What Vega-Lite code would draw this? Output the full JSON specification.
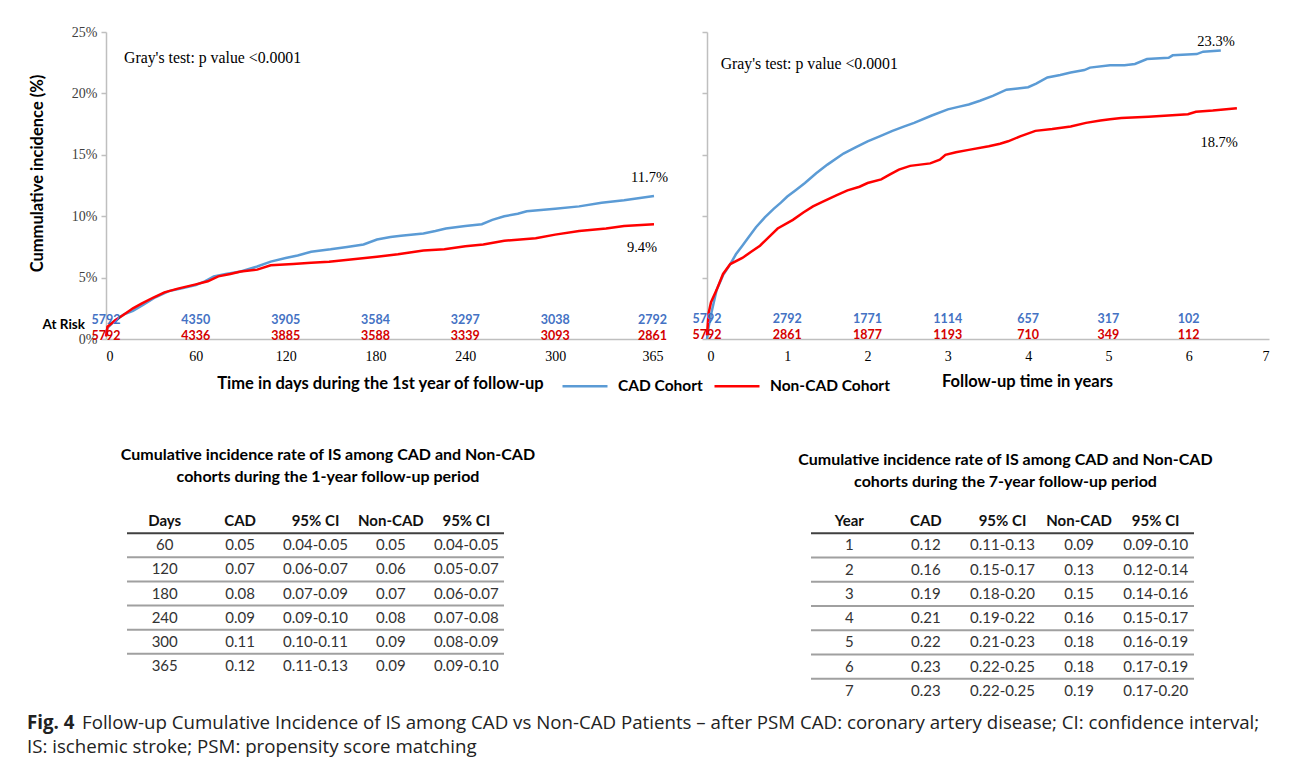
{
  "$schema": "https://vega.github.io/schema/vega-lite/v6.json",
  "background": "white",
  "padding": {"left": 27, "top": 25, "right": 5, "bottom": 5},
  "config": {"view": {"stroke": null}, "font": "Lato"},
  "datasets": {
    "curvesL": [
      {"cohort":"CAD Cohort","t":0,"ci":0.005},{"cohort":"CAD Cohort","t":1,"ci":0.009},{"cohort":"CAD Cohort","t":6,"ci":0.015},{"cohort":"CAD Cohort","t":12,"ci":0.02},{"cohort":"CAD Cohort","t":18,"ci":0.023},{"cohort":"CAD Cohort","t":25,"ci":0.028},{"cohort":"CAD Cohort","t":33,"ci":0.034},{"cohort":"CAD Cohort","t":42,"ci":0.039},{"cohort":"CAD Cohort","t":50,"ci":0.041},{"cohort":"CAD Cohort","t":60,"ci":0.044},{"cohort":"CAD Cohort","t":66,"ci":0.047},{"cohort":"CAD Cohort","t":72,"ci":0.051},{"cohort":"CAD Cohort","t":80,"ci":0.053},{"cohort":"CAD Cohort","t":90,"ci":0.055},{"cohort":"CAD Cohort","t":101,"ci":0.059},{"cohort":"CAD Cohort","t":110,"ci":0.063},{"cohort":"CAD Cohort","t":120,"ci":0.066},{"cohort":"CAD Cohort","t":128,"ci":0.068},{"cohort":"CAD Cohort","t":137,"ci":0.071},{"cohort":"CAD Cohort","t":150,"ci":0.073},{"cohort":"CAD Cohort","t":161,"ci":0.075},{"cohort":"CAD Cohort","t":172,"ci":0.077},{"cohort":"CAD Cohort","t":181,"ci":0.081},{"cohort":"CAD Cohort","t":190,"ci":0.083},{"cohort":"CAD Cohort","t":197,"ci":0.084},{"cohort":"CAD Cohort","t":212,"ci":0.086},{"cohort":"CAD Cohort","t":220,"ci":0.088},{"cohort":"CAD Cohort","t":227,"ci":0.09},{"cohort":"CAD Cohort","t":240,"ci":0.092},{"cohort":"CAD Cohort","t":251,"ci":0.0935},{"cohort":"CAD Cohort","t":258,"ci":0.097},{"cohort":"CAD Cohort","t":266,"ci":0.1},{"cohort":"CAD Cohort","t":275,"ci":0.102},{"cohort":"CAD Cohort","t":281,"ci":0.104},{"cohort":"CAD Cohort","t":300,"ci":0.106},{"cohort":"CAD Cohort","t":316,"ci":0.108},{"cohort":"CAD Cohort","t":331,"ci":0.111},{"cohort":"CAD Cohort","t":346,"ci":0.113},{"cohort":"CAD Cohort","t":366,"ci":0.1165},
      {"cohort":"Non-CAD Cohort","t":0,"ci":0.002},{"cohort":"Non-CAD Cohort","t":1,"ci":0.01},{"cohort":"Non-CAD Cohort","t":6,"ci":0.015},{"cohort":"Non-CAD Cohort","t":12,"ci":0.02},{"cohort":"Non-CAD Cohort","t":18,"ci":0.025},{"cohort":"Non-CAD Cohort","t":24,"ci":0.029},{"cohort":"Non-CAD Cohort","t":32,"ci":0.034},{"cohort":"Non-CAD Cohort","t":39,"ci":0.038},{"cohort":"Non-CAD Cohort","t":48,"ci":0.041},{"cohort":"Non-CAD Cohort","t":60,"ci":0.0445},{"cohort":"Non-CAD Cohort","t":68,"ci":0.047},{"cohort":"Non-CAD Cohort","t":75,"ci":0.051},{"cohort":"Non-CAD Cohort","t":83,"ci":0.053},{"cohort":"Non-CAD Cohort","t":90,"ci":0.055},{"cohort":"Non-CAD Cohort","t":101,"ci":0.0565},{"cohort":"Non-CAD Cohort","t":110,"ci":0.06},{"cohort":"Non-CAD Cohort","t":125,"ci":0.061},{"cohort":"Non-CAD Cohort","t":137,"ci":0.062},{"cohort":"Non-CAD Cohort","t":149,"ci":0.063},{"cohort":"Non-CAD Cohort","t":165,"ci":0.065},{"cohort":"Non-CAD Cohort","t":181,"ci":0.067},{"cohort":"Non-CAD Cohort","t":195,"ci":0.069},{"cohort":"Non-CAD Cohort","t":212,"ci":0.072},{"cohort":"Non-CAD Cohort","t":226,"ci":0.073},{"cohort":"Non-CAD Cohort","t":240,"ci":0.0755},{"cohort":"Non-CAD Cohort","t":252,"ci":0.077},{"cohort":"Non-CAD Cohort","t":266,"ci":0.08},{"cohort":"Non-CAD Cohort","t":287,"ci":0.082},{"cohort":"Non-CAD Cohort","t":300,"ci":0.085},{"cohort":"Non-CAD Cohort","t":316,"ci":0.088},{"cohort":"Non-CAD Cohort","t":334,"ci":0.09},{"cohort":"Non-CAD Cohort","t":346,"ci":0.092},{"cohort":"Non-CAD Cohort","t":366,"ci":0.0935}
    ],
    "curvesR": [
      {"cohort":"CAD Cohort","t":0,"ci":0},{"cohort":"CAD Cohort","t":0.02,"ci":0.01},{"cohort":"CAD Cohort","t":0.05,"ci":0.02},{"cohort":"CAD Cohort","t":0.12,"ci":0.04},{"cohort":"CAD Cohort","t":0.2,"ci":0.052},{"cohort":"CAD Cohort","t":0.29,"ci":0.061},{"cohort":"CAD Cohort","t":0.36,"ci":0.069},{"cohort":"CAD Cohort","t":0.44,"ci":0.076},{"cohort":"CAD Cohort","t":0.52,"ci":0.083},{"cohort":"CAD Cohort","t":0.61,"ci":0.091},{"cohort":"CAD Cohort","t":0.72,"ci":0.099},{"cohort":"CAD Cohort","t":0.83,"ci":0.106},{"cohort":"CAD Cohort","t":0.92,"ci":0.111},{"cohort":"CAD Cohort","t":1.0,"ci":0.116},{"cohort":"CAD Cohort","t":1.1,"ci":0.121},{"cohort":"CAD Cohort","t":1.22,"ci":0.127},{"cohort":"CAD Cohort","t":1.36,"ci":0.135},{"cohort":"CAD Cohort","t":1.5,"ci":0.142},{"cohort":"CAD Cohort","t":1.7,"ci":0.151},{"cohort":"CAD Cohort","t":1.85,"ci":0.156},{"cohort":"CAD Cohort","t":2.0,"ci":0.161},{"cohort":"CAD Cohort","t":2.15,"ci":0.165},{"cohort":"CAD Cohort","t":2.31,"ci":0.1695},{"cohort":"CAD Cohort","t":2.45,"ci":0.173},{"cohort":"CAD Cohort","t":2.58,"ci":0.176},{"cohort":"CAD Cohort","t":2.8,"ci":0.182},{"cohort":"CAD Cohort","t":3.0,"ci":0.187},{"cohort":"CAD Cohort","t":3.13,"ci":0.189},{"cohort":"CAD Cohort","t":3.26,"ci":0.191},{"cohort":"CAD Cohort","t":3.4,"ci":0.194},{"cohort":"CAD Cohort","t":3.56,"ci":0.198},{"cohort":"CAD Cohort","t":3.73,"ci":0.203},{"cohort":"CAD Cohort","t":3.87,"ci":0.204},{"cohort":"CAD Cohort","t":4.0,"ci":0.205},{"cohort":"CAD Cohort","t":4.1,"ci":0.208},{"cohort":"CAD Cohort","t":4.24,"ci":0.213},{"cohort":"CAD Cohort","t":4.4,"ci":0.215},{"cohort":"CAD Cohort","t":4.53,"ci":0.217},{"cohort":"CAD Cohort","t":4.7,"ci":0.219},{"cohort":"CAD Cohort","t":4.77,"ci":0.221},{"cohort":"CAD Cohort","t":5.02,"ci":0.223},{"cohort":"CAD Cohort","t":5.2,"ci":0.223},{"cohort":"CAD Cohort","t":5.33,"ci":0.224},{"cohort":"CAD Cohort","t":5.48,"ci":0.228},{"cohort":"CAD Cohort","t":5.75,"ci":0.229},{"cohort":"CAD Cohort","t":5.8,"ci":0.231},{"cohort":"CAD Cohort","t":6.1,"ci":0.232},{"cohort":"CAD Cohort","t":6.18,"ci":0.234},{"cohort":"CAD Cohort","t":6.4,"ci":0.235},
      {"cohort":"Non-CAD Cohort","t":0,"ci":0.003},{"cohort":"Non-CAD Cohort","t":0.02,"ci":0.021},{"cohort":"Non-CAD Cohort","t":0.05,"ci":0.03},{"cohort":"Non-CAD Cohort","t":0.12,"ci":0.04},{"cohort":"Non-CAD Cohort","t":0.2,"ci":0.053},{"cohort":"Non-CAD Cohort","t":0.29,"ci":0.061},{"cohort":"Non-CAD Cohort","t":0.44,"ci":0.066},{"cohort":"Non-CAD Cohort","t":0.55,"ci":0.071},{"cohort":"Non-CAD Cohort","t":0.66,"ci":0.076},{"cohort":"Non-CAD Cohort","t":0.77,"ci":0.083},{"cohort":"Non-CAD Cohort","t":0.88,"ci":0.09},{"cohort":"Non-CAD Cohort","t":1.07,"ci":0.097},{"cohort":"Non-CAD Cohort","t":1.2,"ci":0.103},{"cohort":"Non-CAD Cohort","t":1.32,"ci":0.108},{"cohort":"Non-CAD Cohort","t":1.45,"ci":0.112},{"cohort":"Non-CAD Cohort","t":1.61,"ci":0.117},{"cohort":"Non-CAD Cohort","t":1.75,"ci":0.121},{"cohort":"Non-CAD Cohort","t":1.9,"ci":0.124},{"cohort":"Non-CAD Cohort","t":2.0,"ci":0.127},{"cohort":"Non-CAD Cohort","t":2.17,"ci":0.13},{"cohort":"Non-CAD Cohort","t":2.28,"ci":0.134},{"cohort":"Non-CAD Cohort","t":2.39,"ci":0.138},{"cohort":"Non-CAD Cohort","t":2.53,"ci":0.141},{"cohort":"Non-CAD Cohort","t":2.78,"ci":0.143},{"cohort":"Non-CAD Cohort","t":2.9,"ci":0.146},{"cohort":"Non-CAD Cohort","t":2.97,"ci":0.15},{"cohort":"Non-CAD Cohort","t":3.1,"ci":0.152},{"cohort":"Non-CAD Cohort","t":3.26,"ci":0.154},{"cohort":"Non-CAD Cohort","t":3.51,"ci":0.157},{"cohort":"Non-CAD Cohort","t":3.65,"ci":0.159},{"cohort":"Non-CAD Cohort","t":3.75,"ci":0.161},{"cohort":"Non-CAD Cohort","t":3.9,"ci":0.165},{"cohort":"Non-CAD Cohort","t":4.09,"ci":0.1695},{"cohort":"Non-CAD Cohort","t":4.3,"ci":0.171},{"cohort":"Non-CAD Cohort","t":4.53,"ci":0.173},{"cohort":"Non-CAD Cohort","t":4.72,"ci":0.176},{"cohort":"Non-CAD Cohort","t":4.9,"ci":0.178},{"cohort":"Non-CAD Cohort","t":5.02,"ci":0.179},{"cohort":"Non-CAD Cohort","t":5.16,"ci":0.18},{"cohort":"Non-CAD Cohort","t":5.5,"ci":0.181},{"cohort":"Non-CAD Cohort","t":5.99,"ci":0.183},{"cohort":"Non-CAD Cohort","t":6.09,"ci":0.185},{"cohort":"Non-CAD Cohort","t":6.3,"ci":0.186},{"cohort":"Non-CAD Cohort","t":6.6,"ci":0.188}
    ],
    "riskL": [
      {"cohort":"CAD Cohort","t":0,"n":5792},{"cohort":"CAD Cohort","t":60,"n":4350},{"cohort":"CAD Cohort","t":120,"n":3905},{"cohort":"CAD Cohort","t":180,"n":3584},{"cohort":"CAD Cohort","t":240,"n":3297},{"cohort":"CAD Cohort","t":300,"n":3038},{"cohort":"CAD Cohort","t":365,"n":2792},
      {"cohort":"Non-CAD Cohort","t":0,"n":5792},{"cohort":"Non-CAD Cohort","t":60,"n":4336},{"cohort":"Non-CAD Cohort","t":120,"n":3885},{"cohort":"Non-CAD Cohort","t":180,"n":3588},{"cohort":"Non-CAD Cohort","t":240,"n":3339},{"cohort":"Non-CAD Cohort","t":300,"n":3093},{"cohort":"Non-CAD Cohort","t":365,"n":2861}
    ],
    "riskR": [
      {"cohort":"CAD Cohort","t":0,"n":5792},{"cohort":"CAD Cohort","t":1,"n":2792},{"cohort":"CAD Cohort","t":2,"n":1771},{"cohort":"CAD Cohort","t":3,"n":1114},{"cohort":"CAD Cohort","t":4,"n":657},{"cohort":"CAD Cohort","t":5,"n":317},{"cohort":"CAD Cohort","t":6,"n":102},
      {"cohort":"Non-CAD Cohort","t":0,"n":5792},{"cohort":"Non-CAD Cohort","t":1,"n":2861},{"cohort":"Non-CAD Cohort","t":2,"n":1877},{"cohort":"Non-CAD Cohort","t":3,"n":1193},{"cohort":"Non-CAD Cohort","t":4,"n":710},{"cohort":"Non-CAD Cohort","t":5,"n":349},{"cohort":"Non-CAD Cohort","t":6,"n":112}
    ],
    "tableL": [
      {"row":0,"c1":"Days","c2":"CAD","c3":"95% CI","c4":"Non-CAD","c5":"95% CI"},
      {"row":1,"c1":"60","c2":"0.05","c3":"0.04-0.05","c4":"0.05","c5":"0.04-0.05"},
      {"row":2,"c1":"120","c2":"0.07","c3":"0.06-0.07","c4":"0.06","c5":"0.05-0.07"},
      {"row":3,"c1":"180","c2":"0.08","c3":"0.07-0.09","c4":"0.07","c5":"0.06-0.07"},
      {"row":4,"c1":"240","c2":"0.09","c3":"0.09-0.10","c4":"0.08","c5":"0.07-0.08"},
      {"row":5,"c1":"300","c2":"0.11","c3":"0.10-0.11","c4":"0.09","c5":"0.08-0.09"},
      {"row":6,"c1":"365","c2":"0.12","c3":"0.11-0.13","c4":"0.09","c5":"0.09-0.10"}
    ],
    "tableR": [
      {"row":0,"c1":"Year","c2":"CAD","c3":"95% CI","c4":"Non-CAD","c5":"95% CI"},
      {"row":1,"c1":"1","c2":"0.12","c3":"0.11-0.13","c4":"0.09","c5":"0.09-0.10"},
      {"row":2,"c1":"2","c2":"0.16","c3":"0.15-0.17","c4":"0.13","c5":"0.12-0.14"},
      {"row":3,"c1":"3","c2":"0.19","c3":"0.18-0.20","c4":"0.15","c5":"0.14-0.16"},
      {"row":4,"c1":"4","c2":"0.21","c3":"0.19-0.22","c4":"0.16","c5":"0.15-0.17"},
      {"row":5,"c1":"5","c2":"0.22","c3":"0.21-0.23","c4":"0.18","c5":"0.16-0.19"},
      {"row":6,"c1":"6","c2":"0.23","c3":"0.22-0.25","c4":"0.18","c5":"0.17-0.19"},
      {"row":7,"c1":"7","c2":"0.23","c3":"0.22-0.25","c4":"0.19","c5":"0.17-0.20"}
    ]
  },
  "spacing": 6,
  "vconcat": [
    {
      "bounds": "flush",
      "align": "each",
      "columns": 2,
      "spacing": {"row": 170, "column": 53},
      "resolve": {"legend": {"color": "independent"}},
      "concat": [
        {
          "width": 548,
          "height": 307,
          "layer": [
            {
              "data": {"name": "curvesL"},
              "mark": {"type": "line", "strokeWidth": 2.5},
              "encoding": {
                "x": {"field": "t", "type": "quantitative", "scale": {"domain": [0, 366], "nice": false},
                  "axis": {"values": [0, 60, 120, 180, 240, 300, 365], "format": "d", "grid": false, "ticks": false, "domainColor": "#BFBFBF", "domainWidth": 1.5, "labelFont": "Liberation Serif", "labelFontSize": 14, "labelColor": "#000000", "labelPadding": 10, "title": "Time in days during the 1st year of follow-up", "titleFont": "Lato", "titleFontSize": 16.5, "titleFontWeight": "bold", "titleColor": "#000000", "titlePadding": 12}},
                "y": {"field": "ci", "type": "quantitative", "scale": {"domain": [0, 0.25], "nice": false},
                  "axis": {"values": [0, 0.05, 0.1, 0.15, 0.2, 0.25], "format": ".0%", "grid": false, "ticks": true, "tickSize": 5, "tickColor": "#BFBFBF", "tickWidth": 1.5, "domainColor": "#BFBFBF", "domainWidth": 1.5, "labelFont": "Liberation Serif", "labelFontSize": 14, "labelColor": "#404040", "labelPadding": 4, "title": "Cummulative incidence (%)", "titleY": 141, "titleFont": "Lato", "titleFontSize": 16.5, "titleFontWeight": "bold", "titleColor": "#000000", "titlePadding": 26}},
                "color": {"field": "cohort", "type": "nominal", "scale": {"domain": ["CAD Cohort", "Non-CAD Cohort"], "range": ["#5B9BD5", "#FF0000"]},
                  "legend": {"orient": "none", "legendX": 455, "legendY": 330, "direction": "horizontal", "title": null, "symbolType": "stroke", "symbolSize": 2025, "symbolStrokeWidth": 2.5, "labelFont": "Lato", "labelFontSize": 15.5, "labelFontWeight": "bold", "labelColor": "#000000", "labelOffset": 9, "columnPadding": 6}}
              }
            },
            {
              "data": {"values": [{}]},
              "mark": {"type": "text", "align": "left", "baseline": "middle", "font": "Liberation Serif", "fontSize": 15.8, "color": "#000000", "text": "Gray's test: p value <0.0001"},
              "encoding": {"x": {"datum": 12}, "y": {"datum": 0.229}}
            },
            {
              "data": {"values": [{}]},
              "mark": {"type": "text", "align": "center", "baseline": "middle", "font": "Liberation Serif", "fontSize": 14.5, "color": "#000000", "text": "11.7%"},
              "encoding": {"x": {"datum": 363}, "y": {"datum": 0.131}}
            },
            {
              "data": {"values": [{}]},
              "mark": {"type": "text", "align": "center", "baseline": "middle", "font": "Liberation Serif", "fontSize": 14.5, "color": "#000000", "text": "9.4%"},
              "encoding": {"x": {"datum": 358}, "y": {"datum": 0.074}}
            },
            {
              "data": {"values": [{}]},
              "mark": {"type": "text", "align": "right", "baseline": "middle", "font": "Lato", "fontSize": 13.5, "fontWeight": "bold", "color": "#000000", "text": "At Risk", "dx": -21},
              "encoding": {"x": {"datum": 0}, "y": {"datum": 0.0114}}
            },
            {
              "data": {"name": "riskL"},
              "transform": [{"filter": "datum.cohort === 'CAD Cohort'"}],
              "mark": {"type": "text", "align": "center", "baseline": "middle", "font": "Lato", "fontSize": 12.5, "fontWeight": "bold", "color": "#4472C4"},
              "encoding": {"x": {"field": "t", "type": "quantitative"}, "y": {"datum": 0.0155}, "text": {"field": "n", "type": "quantitative"}}
            },
            {
              "data": {"name": "riskL"},
              "transform": [{"filter": "datum.cohort === 'Non-CAD Cohort'"}],
              "mark": {"type": "text", "align": "center", "baseline": "middle", "font": "Lato", "fontSize": 12.5, "fontWeight": "bold", "color": "#D40000"},
              "encoding": {"x": {"field": "t", "type": "quantitative"}, "y": {"datum": 0.0025}, "text": {"field": "n", "type": "quantitative"}}
            }
          ]
        },
        {
          "width": 562,
          "height": 307,
          "layer": [
            {
              "data": {"name": "curvesR"},
              "mark": {"type": "line", "strokeWidth": 2.5},
              "encoding": {
                "x": {"field": "t", "type": "quantitative", "scale": {"domain": [0, 7], "nice": false},
                  "axis": {"values": [0, 1, 2, 3, 4, 5, 6, 7], "format": "d", "grid": false, "ticks": false, "domainColor": "#BFBFBF", "domainWidth": 1.5, "labelFont": "Liberation Serif", "labelFontSize": 14, "labelColor": "#000000", "labelPadding": 10, "title": "Follow-up time in years", "titleX": 320, "titleFont": "Lato", "titleFontSize": 16.5, "titleFontWeight": "bold", "titleColor": "#000000", "titlePadding": 10}},
                "y": {"field": "ci", "type": "quantitative", "scale": {"domain": [0, 0.25], "nice": false},
                  "axis": {"values": [0, 0.05, 0.1, 0.15, 0.2, 0.25], "labels": false, "grid": false, "ticks": true, "tickSize": 5, "tickColor": "#BFBFBF", "tickWidth": 1.5, "domainColor": "#BFBFBF", "domainWidth": 1.5, "title": null}},
                "color": {"field": "cohort", "type": "nominal", "scale": {"domain": ["CAD Cohort", "Non-CAD Cohort"], "range": ["#5B9BD5", "#FF0000"]}, "legend": null}
              }
            },
            {
              "data": {"values": [{}]},
              "mark": {"type": "text", "align": "left", "baseline": "middle", "font": "Liberation Serif", "fontSize": 15.8, "color": "#000000", "text": "Gray's test: p value <0.0001"},
              "encoding": {"x": {"datum": 0.17}, "y": {"datum": 0.224}}
            },
            {
              "data": {"values": [{}]},
              "mark": {"type": "text", "align": "center", "baseline": "middle", "font": "Liberation Serif", "fontSize": 14.5, "color": "#000000", "text": "23.3%"},
              "encoding": {"x": {"datum": 6.34}, "y": {"datum": 0.242}}
            },
            {
              "data": {"values": [{}]},
              "mark": {"type": "text", "align": "center", "baseline": "middle", "font": "Liberation Serif", "fontSize": 14.5, "color": "#000000", "text": "18.7%"},
              "encoding": {"x": {"datum": 6.38}, "y": {"datum": 0.16}}
            },
            {
              "data": {"name": "riskR"},
              "transform": [{"filter": "datum.cohort === 'CAD Cohort'"}],
              "mark": {"type": "text", "align": "center", "baseline": "middle", "font": "Lato", "fontSize": 12.5, "fontWeight": "bold", "color": "#4472C4"},
              "encoding": {"x": {"field": "t", "type": "quantitative"}, "y": {"datum": 0.0165}, "text": {"field": "n", "type": "quantitative"}}
            },
            {
              "data": {"name": "riskR"},
              "transform": [{"filter": "datum.cohort === 'Non-CAD Cohort'"}],
              "mark": {"type": "text", "align": "center", "baseline": "middle", "font": "Lato", "fontSize": 12.5, "fontWeight": "bold", "color": "#D40000"},
              "encoding": {"x": {"field": "t", "type": "quantitative"}, "y": {"datum": 0.0035}, "text": {"field": "n", "type": "quantitative"}}
            }
          ]
        },
        {
          "width": 398,
          "height": 169,
          "data": {"name": "tableL"},
          "title": {"text": ["Cumulative incidence rate of IS  among CAD and Non-CAD", "cohorts during the 1-year follow-up period"], "font": "Lato", "fontSize": 16, "fontWeight": "bold", "color": "#000000", "anchor": "middle", "dx": 23, "offset": 24, "lineHeight": 22},
          "layer": [
            {
              "transform": [{"filter": "datum.row > 0"}, {"fold": ["c1", "c2", "c3", "c4", "c5"], "as": ["col", "text"]}],
              "mark": {"type": "text", "font": "Lato", "fontSize": 15, "color": "#333333", "baseline": "middle"},
              "encoding": {
                "x": {"field": "col", "type": "nominal", "scale": {"type": "band", "domain": ["c1", "c2", "c3", "c4", "c5"], "paddingInner": 0, "paddingOuter": 0.1393, "align": 1}, "axis": null},
                "y": {"field": "row", "type": "ordinal", "scale": {"type": "band", "domain": [0, 1, 2, 3, 4, 5, 6], "paddingInner": 0, "paddingOuter": 0}, "axis": null},
                "text": {"field": "text", "type": "nominal"}
              }
            },
            {
              "transform": [{"filter": "datum.row === 0"}, {"fold": ["c1", "c2", "c3", "c4", "c5"], "as": ["col", "text"]}],
              "mark": {"type": "text", "font": "Lato", "fontSize": 15, "fontWeight": "bold", "color": "#111111", "baseline": "middle"},
              "encoding": {
                "x": {"field": "col", "type": "nominal"},
                "y": {"field": "row", "type": "ordinal"},
                "text": {"field": "text", "type": "nominal"}
              }
            },
            {
              "transform": [{"filter": "datum.row < 6"}],
              "mark": {"type": "rule", "strokeWidth": 2},
              "encoding": {
                "x": {"datum": "c1", "type": "nominal", "bandPosition": 0},
                "x2": {"datum": "c5", "bandPosition": 1},
                "y": {"field": "row", "type": "ordinal", "bandPosition": 1},
                "color": {"condition": {"test": "datum.row === 0", "value": "#404040"}, "value": "#A0A0A0"}
              }
            }
          ]
        },
        {
          "width": 487,
          "height": 194,
          "data": {"name": "tableR"},
          "title": {"text": ["Cumulative incidence rate of IS  among CAD and Non-CAD", "cohorts during the 7-year follow-up period"], "font": "Lato", "fontSize": 16, "fontWeight": "bold", "color": "#000000", "anchor": "middle", "dx": 55, "offset": 19, "lineHeight": 22},
          "layer": [
            {
              "transform": [{"filter": "datum.row > 0"}, {"fold": ["c1", "c2", "c3", "c4", "c5"], "as": ["col", "text"]}],
              "mark": {"type": "text", "font": "Lato", "fontSize": 15, "color": "#333333", "baseline": "middle"},
              "encoding": {
                "x": {"field": "col", "type": "nominal", "scale": {"type": "band", "domain": ["c1", "c2", "c3", "c4", "c5"], "paddingInner": 0, "paddingOuter": 0.6789, "align": 1}, "axis": null},
                "y": {"field": "row", "type": "ordinal", "scale": {"type": "band", "domain": [0, 1, 2, 3, 4, 5, 6, 7], "paddingInner": 0, "paddingOuter": 0}, "axis": null},
                "text": {"field": "text", "type": "nominal"}
              }
            },
            {
              "transform": [{"filter": "datum.row === 0"}, {"fold": ["c1", "c2", "c3", "c4", "c5"], "as": ["col", "text"]}],
              "mark": {"type": "text", "font": "Lato", "fontSize": 15, "fontWeight": "bold", "color": "#111111", "baseline": "middle"},
              "encoding": {
                "x": {"field": "col", "type": "nominal"},
                "y": {"field": "row", "type": "ordinal"},
                "text": {"field": "text", "type": "nominal"}
              }
            },
            {
              "transform": [{"filter": "datum.row < 7"}],
              "mark": {"type": "rule", "strokeWidth": 2},
              "encoding": {
                "x": {"datum": "c1", "type": "nominal", "bandPosition": 0},
                "x2": {"datum": "c5", "bandPosition": 1},
                "y": {"field": "row", "type": "ordinal", "bandPosition": 1},
                "color": {"condition": {"test": "datum.row === 0", "value": "#404040"}, "value": "#A0A0A0"}
              }
            }
          ]
        }
      ]
    },
    {
      "width": 1160,
      "height": 50,
      "data": {"values": [{}]},
      "layer": [
        {
          "mark": {"type": "text", "align": "left", "baseline": "alphabetic", "font": "Open Sans", "fontSize": 18.7, "fontWeight": "bold", "color": "#222222", "text": "Fig. 4"},
          "encoding": {"x": {"value": -79}, "y": {"value": 20}}
        },
        {
          "mark": {"type": "text", "align": "left", "baseline": "alphabetic", "font": "Open Sans", "fontSize": 18.7, "color": "#222222", "text": "Follow-up Cumulative Incidence of IS among CAD vs Non-CAD Patients – after PSM CAD: coronary artery disease; CI: confidence interval;"},
          "encoding": {"x": {"value": -24}, "y": {"value": 20}}
        },
        {
          "mark": {"type": "text", "align": "left", "baseline": "alphabetic", "font": "Open Sans", "fontSize": 18.7, "color": "#222222", "text": "IS: ischemic stroke; PSM: propensity score matching"},
          "encoding": {"x": {"value": -79}, "y": {"value": 44}}
        }
      ]
    }
  ]
}
